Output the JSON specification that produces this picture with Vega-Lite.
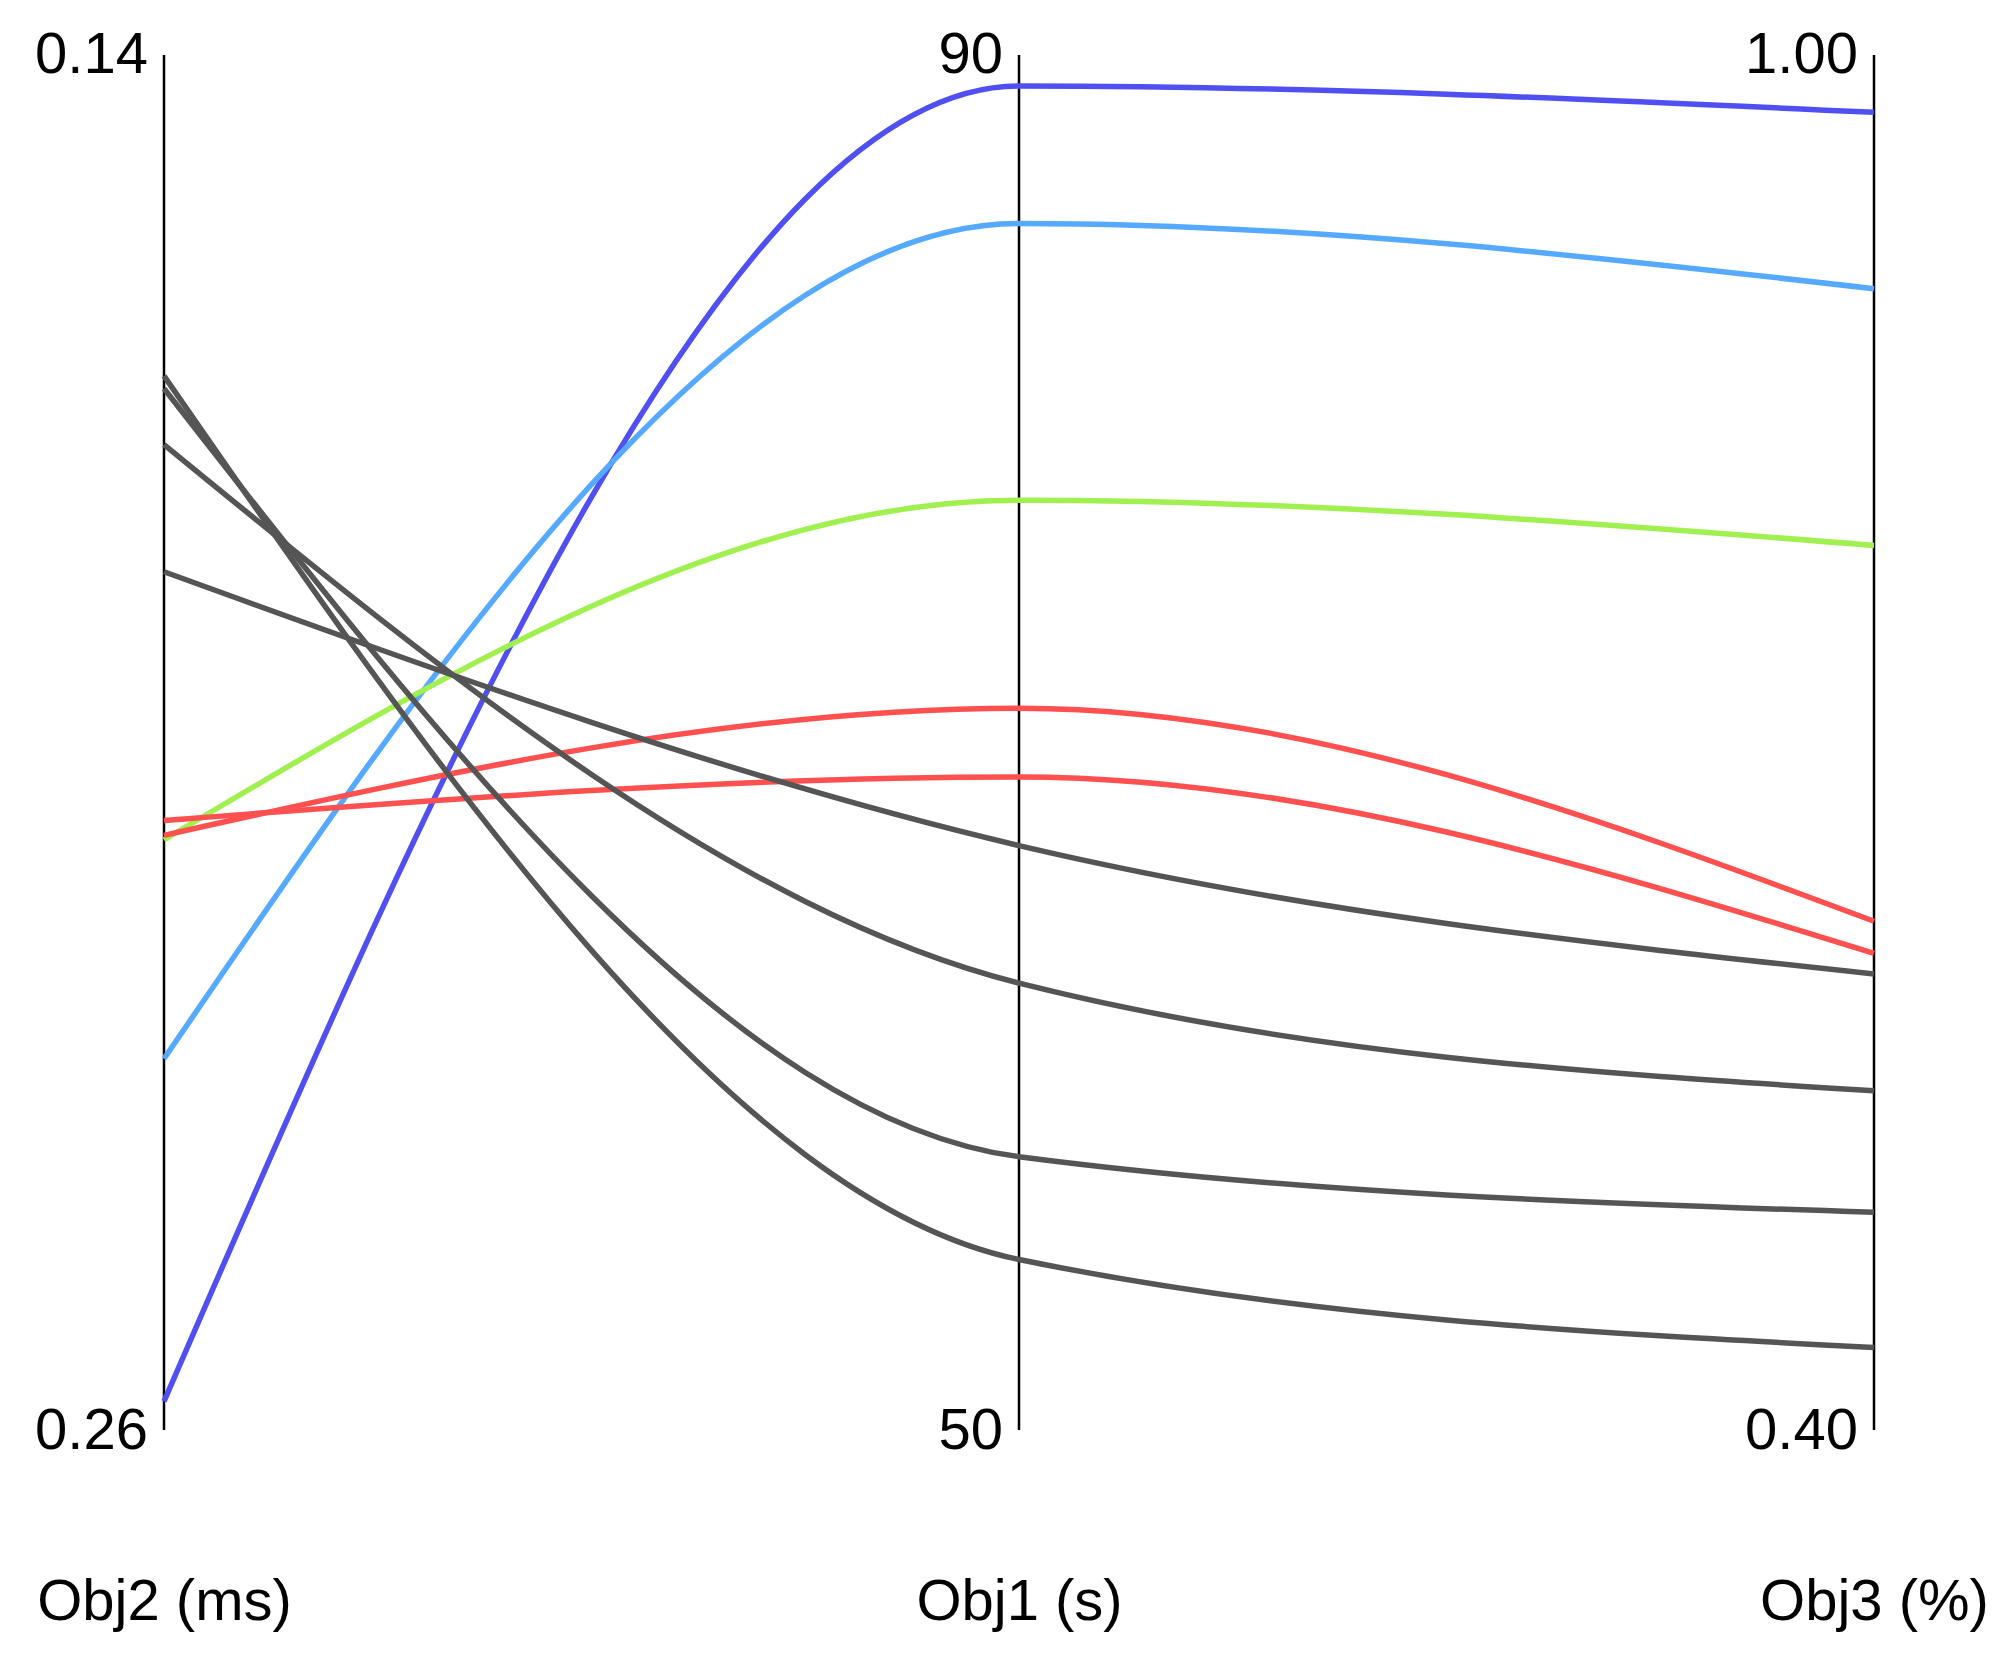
{
  "$schema": "https://vega.github.io/schema/vega-lite/v6.json",
  "width": 1710,
  "height": 1375,
  "autosize": {"type": "none"},
  "padding": {"left": 164, "top": 55, "right": 130, "bottom": 232},
  "background": "white",
  "config": {"view": {"stroke": null}, "font": "Liberation Sans"},
  "datasets": {
    "lines": [
      {"id": 1, "group": "g1", "Obj2 (ms)": 0.2575, "Obj1 (s)": 89.1, "Obj3 (%)": 0.975},
      {"id": 2, "group": "g2", "Obj2 (ms)": 0.2276, "Obj1 (s)": 85.1, "Obj3 (%)": 0.898},
      {"id": 3, "group": "g3", "Obj2 (ms)": 0.2085, "Obj1 (s)": 77.05, "Obj3 (%)": 0.786},
      {"id": 4, "group": "g4", "Obj2 (ms)": 0.2081, "Obj1 (s)": 71.0, "Obj3 (%)": 0.622},
      {"id": 5, "group": "g4", "Obj2 (ms)": 0.2068, "Obj1 (s)": 69.0, "Obj3 (%)": 0.608},
      {"id": 6, "group": "g5", "Obj2 (ms)": 0.1851, "Obj1 (s)": 67.0, "Obj3 (%)": 0.599},
      {"id": 7, "group": "g5", "Obj2 (ms)": 0.174, "Obj1 (s)": 63.0, "Obj3 (%)": 0.548},
      {"id": 8, "group": "g5", "Obj2 (ms)": 0.1691, "Obj1 (s)": 57.95, "Obj3 (%)": 0.495},
      {"id": 9, "group": "g5", "Obj2 (ms)": 0.168, "Obj1 (s)": 54.96, "Obj3 (%)": 0.436}
    ],
    "axes": [
      {"axis": "Obj2 (ms)", "topLabel": "0.14", "bottomLabel": "0.26"},
      {"axis": "Obj1 (s)", "topLabel": "90", "bottomLabel": "50"},
      {"axis": "Obj3 (%)", "topLabel": "1.00", "bottomLabel": "0.40"}
    ]
  },
  "encoding": {
    "x": {
      "field": "axis",
      "type": "nominal",
      "sort": ["Obj2 (ms)", "Obj1 (s)", "Obj3 (%)"],
      "scale": {"type": "point", "padding": 0},
      "axis": {
        "orient": "bottom",
        "title": null,
        "ticks": false,
        "domain": false,
        "grid": false,
        "labelAngle": 0,
        "labelFontSize": 58,
        "labelFont": "Liberation Sans",
        "labelColor": "#000000",
        "labelBaseline": "middle",
        "labelPadding": 172,
        "labelLimit": 0,
        "labelOverlap": false
      }
    }
  },
  "layer": [
    {
      "data": {"name": "axes"},
      "mark": {"type": "rule", "color": "#000000", "strokeWidth": 2.5},
      "encoding": {
        "y": {"datum": 0, "type": "quantitative", "scale": {"domain": [0, 1], "nice": false, "zero": false}, "axis": null},
        "y2": {"datum": 1}
      }
    },
    {
      "data": {"name": "lines"},
      "transform": [
        {"fold": ["Obj2 (ms)", "Obj1 (s)", "Obj3 (%)"], "as": ["axis", "raw"]},
        {"calculate": "datum.axis === 'Obj2 (ms)' ? (0.26 - datum.raw) / 0.12 : (datum.axis === 'Obj1 (s)' ? (datum.raw - 50) / 40 : (datum.raw - 0.4) / 0.6)", "as": "norm"}
      ],
      "mark": {"type": "line", "interpolate": "monotone", "strokeWidth": 5.5},
      "encoding": {
        "y": {"field": "norm", "type": "quantitative", "axis": null},
        "color": {
          "field": "group",
          "type": "nominal",
          "scale": {"domain": ["g1", "g2", "g3", "g4", "g5"], "range": ["#5050F2", "#55AAFF", "#A0F050", "#FF5050", "#555555"]},
          "legend": null
        },
        "detail": {"field": "id", "type": "nominal"},
        "order": {"field": "id", "type": "quantitative"}
      }
    },
    {
      "data": {"name": "axes"},
      "mark": {"type": "text", "align": "right", "baseline": "middle", "dx": -16, "dy": 1, "fontSize": 58, "font": "Liberation Sans", "color": "#000000"},
      "encoding": {
        "y": {"datum": 1, "type": "quantitative"},
        "text": {"field": "topLabel"}
      }
    },
    {
      "data": {"name": "axes"},
      "mark": {"type": "text", "align": "right", "baseline": "middle", "dx": -16, "dy": 2, "fontSize": 58, "font": "Liberation Sans", "color": "#000000"},
      "encoding": {
        "y": {"datum": 0, "type": "quantitative"},
        "text": {"field": "bottomLabel"}
      }
    }
  ]
}
